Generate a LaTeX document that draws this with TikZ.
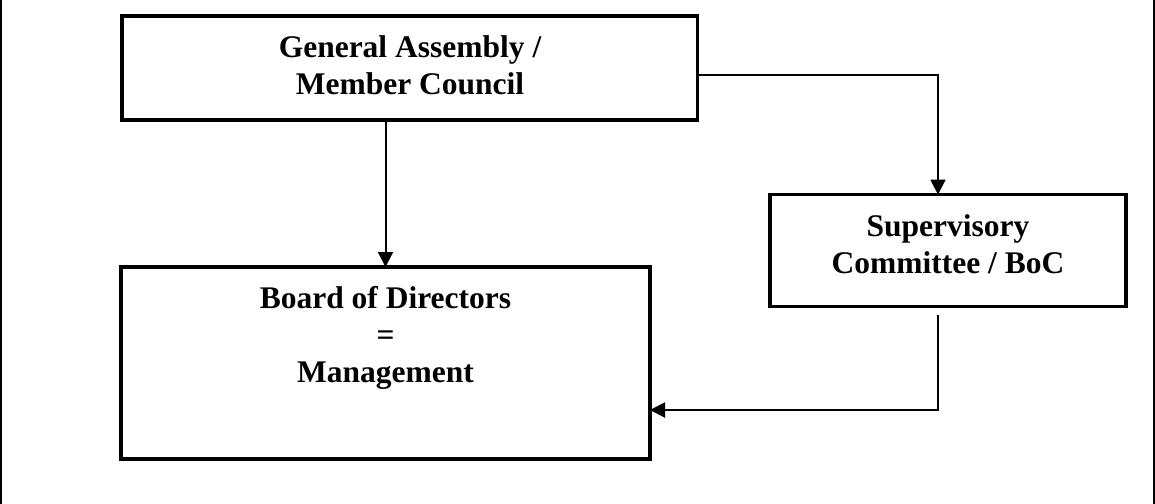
\documentclass[tikz,border=0pt]{standalone}
\usepackage{fontspec}
\setmainfont{Liberation Serif}
\usetikzlibrary{arrows.meta}
\begin{document}
\begin{tikzpicture}[x=1pt,y=-1pt,
  box/.style={draw, line width=3.4pt, inner sep=0pt, outer sep=0pt, anchor=north west},
  lbl/.style={inner sep=0pt, anchor=north, align=center, font=\bfseries\fontsize{31.5}{37}\selectfont},
  conn/.style={line width=2pt, -{Triangle[length=15pt,width=15pt]}},
  framel/.style={line width=2pt, draw=black}]
\useasboundingbox (0,0) rectangle (1155,503);
% outer frame (left and right edges)
\draw[framel] (1,-5) -- (1,508);
\draw[framel] (1153.5,-5) -- (1153.5,508);
% boxes
\node[box, minimum width=575.5pt, minimum height=104pt] (ga) at (122,16) {};
\node[box, minimum width=529pt, minimum height=192pt] (bod) at (121,267) {};
\node[box, minimum width=356pt, minimum height=112pt] (sc) at (770,194.5) {};
% labels
\node[lbl] (gat) at (410,32) {\rule{0pt}{25pt}General Assembly /\\Member Council};
\node[lbl] (bodt) at (385.5,283) {\rule{0pt}{25pt}Board of Directors\\=\\Management};
\node[lbl] (sct) at (948,211) {\rule{0pt}{25pt}Supervisory\\Committee / BoC};
% connectors
\coordinate (t1) at (938,74.7);
\coordinate (t3) at (938,410);
\draw[conn] (ga.south -| bod.north) -- (bod.north);
\draw[conn] (ga.east |- t1) -- (t1) -- (sc.north -| t1);
\draw[conn] ([yshift=-8.5pt]sc.south -| t1) -- (t3) -- (bod.east |- t3);
\end{tikzpicture}
\end{document}
